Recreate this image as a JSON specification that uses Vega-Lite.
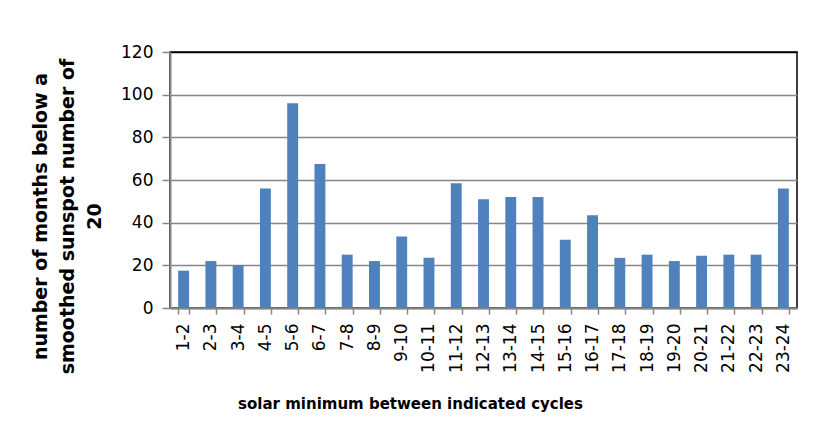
{
  "$schema": "https://vega.github.io/schema/vega-lite/v6.json",
  "width": 627,
  "height": 256,
  "autosize": "none",
  "padding": {"left": 170, "top": 52, "right": 31, "bottom": 125},
  "background": "#ffffff",
  "config": {
    "view": {"stroke": "#000000", "strokeWidth": 1.5},
    "axis": {"labelFont": "DejaVu Sans", "titleFont": "DejaVu Sans", "labelColor": "#000000", "titleColor": "#000000"}
  },
  "data": {
    "values": [
      {"cycle": "1-2", "months": 17.5},
      {"cycle": "2-3", "months": 22},
      {"cycle": "3-4", "months": 20},
      {"cycle": "4-5", "months": 56},
      {"cycle": "5-6", "months": 96},
      {"cycle": "6-7", "months": 67.5},
      {"cycle": "7-8", "months": 25},
      {"cycle": "8-9", "months": 22},
      {"cycle": "9-10", "months": 33.5},
      {"cycle": "10-11", "months": 23.5},
      {"cycle": "11-12", "months": 58.5},
      {"cycle": "12-13", "months": 51},
      {"cycle": "13-14", "months": 52},
      {"cycle": "14-15", "months": 52},
      {"cycle": "15-16", "months": 32},
      {"cycle": "16-17", "months": 43.5},
      {"cycle": "17-18", "months": 23.5},
      {"cycle": "18-19", "months": 25},
      {"cycle": "19-20", "months": 22},
      {"cycle": "20-21", "months": 24.5},
      {"cycle": "21-22", "months": 25},
      {"cycle": "22-23", "months": 25},
      {"cycle": "23-24", "months": 56}
    ]
  },
  "mark": {"type": "bar", "color": "#4F81BD"},
  "encoding": {
    "x": {
      "field": "cycle",
      "type": "nominal",
      "sort": null,
      "scale": {"paddingInner": 0.6, "paddingOuter": 0.3},
      "axis": {
        "title": "solar minimum between indicated cycles",
        "titleFontSize": 15,
        "titleFontWeight": "bold",
        "titleX": 240,
        "titleY": 95,
        "titleBaseline": "middle",
        "titleAnchor": null,
        "labelAngle": -90,
        "labelFontSize": 17,
        "labelPadding": 9,
        "tickBand": "extent",
        "tickColor": "#868686",
        "tickWidth": 1.5,
        "tickSize": 6,
        "domainColor": "#868686",
        "domainWidth": 2
      }
    },
    "y": {
      "field": "months",
      "type": "quantitative",
      "scale": {"domain": [0, 120], "nice": false},
      "axis": {
        "title": ["number of months  below a", "smoothed sunspot number of", "20"],
        "titleFontSize": 19,
        "titleFontWeight": "bold",
        "titleLineHeight": 27,
        "titleAngle": -90,
        "titleX": -130,
        "titleY": 164,
        "titleAlign": "center",
        "titleBaseline": "middle",
        "values": [0, 20, 40, 60, 80, 100, 120],
        "labelFontSize": 17,
        "labelPadding": 9,
        "tickColor": "#868686",
        "tickWidth": 1.5,
        "tickSize": 8,
        "grid": true,
        "gridColor": {"condition": {"test": "datum.value == 120", "value": "#000000"}, "value": "#868686"},
        "gridWidth": 1.5,
        "domainColor": "#868686",
        "domainWidth": 2
      }
    }
  }
}
